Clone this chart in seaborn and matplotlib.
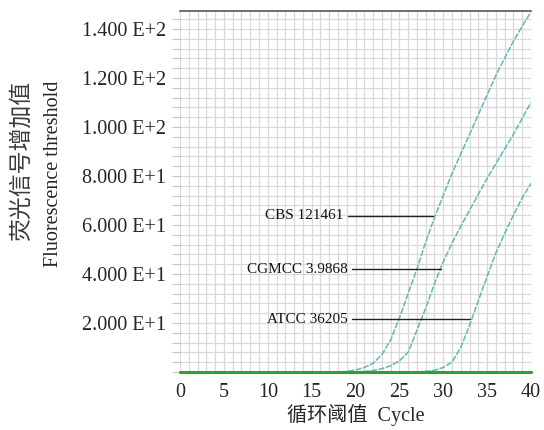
# -*- coding: UTF-8 -*-
import matplotlib
matplotlib.use("Agg")
import matplotlib.pyplot as plt
import numpy as np
import pandas as pd
import seaborn as sns

# data (cycles 0..40)
cycles = list(range(0, 41))
cbs_121461 = [0] * 19 + [0.2, 0.8, 1.8, 3.5, 7, 13, 22, 32, 42, 53, 63, 72,
                         81, 89, 97, 105, 113, 121, 128, 135, 141, 147]
cgmcc_39868 = [0] * 21 + [0.2, 0.6, 1.3, 2.5, 4.5, 8, 17, 26, 36, 45, 52.5,
                          59.5, 66, 72.5, 79, 85, 91, 97, 103.5, 110]
atcc_36205 = [0] * 28 + [0.2, 0.7, 1.8, 4, 10, 19, 29, 39, 48.5, 56.5, 64, 71, 77]

strains = ["CBS 121461", "CGMCC 3.9868", "ATCC 36205"]
label_y = [63.8, 42.0, 21.5]
line_x0 = [19.1, 19.6, 19.6]
line_x1 = [28.8, 29.7, 33.0]

y_ticks = [20, 40, 60, 80, 100, 120, 140]
y_labels = ["2.000 E+1", "4.000 E+1", "6.000 E+1", "8.000 E+1",
            "1.000 E+2", "1.200 E+2", "1.400 E+2"]
x_ticks = [0, 5, 10, 15, 20, 25, 30, 35, 40]

df = pd.DataFrame({"cycle": cycles * 3,
                   "value": cbs_121461 + cgmcc_39868 + atcc_36205,
                   "strain": np.repeat(strains, len(cycles))})

sns.set_style("white")
plt.rcParams['font.family'] = ['Liberation Serif', 'Noto Sans CJK SC', 'DejaVu Sans']

fig = plt.figure(figsize=(5.44, 4.3), dpi=100)
ax = fig.add_axes([0.331, 0.135, 0.645, 0.8405])

teal = "#62b8b4"
sns.lineplot(data=df, x="cycle", y="value", units="strain", estimator=None,
             color=teal, lw=1.1, ax=ax, legend=False, zorder=3)
for ln in ax.get_lines():
    ln.set_dashes((4, 1))

ax.set_xlim(0, 40)
ax.set_ylim(0, 147.5)

# grid: one line per cycle, one per 4 units
ax.set_xticks(np.arange(0, 41, 1), minor=True)
ax.set_yticks(np.arange(0, 148, 4), minor=True)
ax.grid(which="both", color="#d9d9d9", lw=0.9, zorder=0)
ax.set_axisbelow(True)

ax.set_xticks(x_ticks)
ax.set_xticklabels([str(t) for t in x_ticks])
ax.set_yticks(y_ticks)
ax.set_yticklabels(y_labels)
ax.tick_params(axis="x", which="both", length=0, pad=8, labelsize=14.5)
ax.tick_params(axis="y", which="both", length=6, color="#c4c4c4", width=0.8,
               pad=4, labelsize=14.5, left=True)

for s in ["left", "right", "bottom"]:
    ax.spines[s].set_visible(False)
ax.spines["top"].set_color("#555555")
ax.spines["top"].set_linewidth(1.2)

# green baseline
ax.axhline(0, color="#2ea02e", lw=2.2, zorder=4, clip_on=False)

# strain labels with leader lines
for name, yv, x0, x1 in zip(strains, label_y, line_x0, line_x1):
    ax.plot([x0, x1], [yv, yv], color="#222222", lw=1.0, zorder=5)
    ax.text(x0 - 0.5, yv, name, ha="right", va="center", fontsize=11,
            color="#111111", zorder=5)

ax.set_xlabel("")
ax.set_ylabel("")
fig.text(0.654, 0.036, "循环阈值  Cycle", ha="center", va="center",
         fontsize=14.5, fontweight="light")
fig.text(0.040, 0.625, "荧光信号增加值", rotation=90, ha="center", va="center",
         fontsize=16.5, color="#3a3a3a", fontweight="light")
fig.text(0.098, 0.595, "Fluorescence threshold", rotation=90, ha="center",
         va="center", fontsize=14.5)

plt.savefig("out.png", dpi=100)
